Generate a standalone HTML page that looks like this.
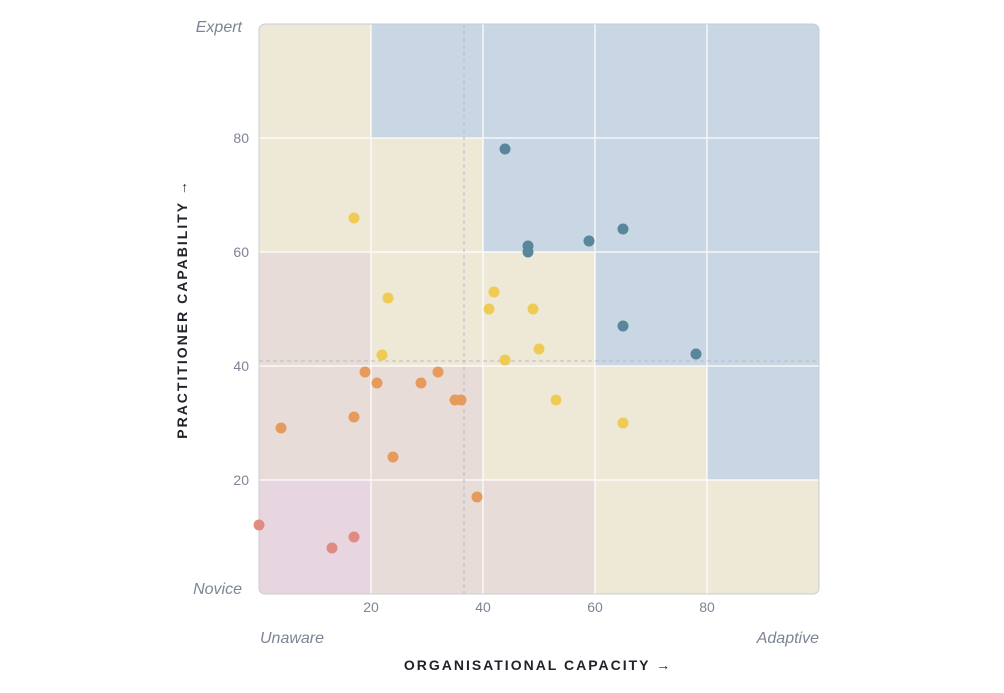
<!DOCTYPE html>
<html><head><meta charset="utf-8"><style>
body{margin:0;background:#fff;}
svg{display:block;font-family:"Liberation Sans",sans-serif;}
</style></head><body>
<svg width="1004" height="693" viewBox="0 0 1004 693">
<defs><clipPath id="c"><rect x="259" y="24" width="560" height="570" rx="6"/></clipPath></defs>
<g clip-path="url(#c)">
<rect x="259" y="24" width="560" height="570" fill="#c9d7e4"/>
<g fill="#eee8d7">
<rect x="259" y="24" width="112" height="114"/>
<rect x="259" y="138" width="224" height="114"/>
<rect x="371" y="252" width="224" height="114"/>
<rect x="483" y="366" width="224" height="114"/>
<rect x="595" y="480" width="224" height="114"/>
</g>
<g fill="#e8dcd9">
<rect x="259" y="252" width="112" height="228"/>
<rect x="371" y="366" width="112" height="114"/>
<rect x="371" y="480" width="224" height="114"/>
</g>
<rect x="259" y="480" width="112" height="114" fill="#e7d6e0"/>
<g stroke="#fff" stroke-width="1.5" opacity="0.8">
<line x1="371" y1="24" x2="371" y2="594"/><line x1="483" y1="24" x2="483" y2="594"/>
<line x1="595" y1="24" x2="595" y2="594"/><line x1="707" y1="24" x2="707" y2="594"/>
<line x1="259" y1="138" x2="819" y2="138"/><line x1="259" y1="252" x2="819" y2="252"/>
<line x1="259" y1="366" x2="819" y2="366"/><line x1="259" y1="480" x2="819" y2="480"/>
</g>
<g stroke="#b8bcc4" stroke-width="1" stroke-dasharray="4,3">
<line x1="464" y1="24" x2="464" y2="594"/><line x1="259" y1="361" x2="819" y2="361"/>
</g>
</g>
<rect x="259" y="24" width="560" height="570" rx="6" fill="none" stroke="#c8ccd2"/>
<g fill="#58869a">
<circle cx="505" cy="149" r="5.5"/><circle cx="528" cy="246" r="5.5"/><circle cx="528" cy="252" r="5.5"/>
<circle cx="589" cy="241" r="5.5"/><circle cx="623" cy="229" r="5.5"/><circle cx="623" cy="326" r="5.5"/><circle cx="696" cy="354" r="5.5"/>
</g>
<g fill="#efcb55">
<circle cx="354" cy="218" r="5.5"/><circle cx="388" cy="298" r="5.5"/><circle cx="494" cy="292" r="5.5"/>
<circle cx="489" cy="309" r="5.5"/><circle cx="533" cy="309" r="5.5"/><circle cx="382" cy="355" r="5.5"/>
<circle cx="505" cy="360" r="5.5"/><circle cx="539" cy="349" r="5.5"/><circle cx="556" cy="400" r="5.5"/><circle cx="623" cy="423" r="5.5"/>
</g>
<g fill="#e69b5c">
<circle cx="365" cy="372" r="5.5"/><circle cx="377" cy="383" r="5.5"/><circle cx="421" cy="383" r="5.5"/>
<circle cx="438" cy="372" r="5.5"/><circle cx="455" cy="400" r="5.5"/><circle cx="461" cy="400" r="5.5"/>
<circle cx="354" cy="417" r="5.5"/><circle cx="281" cy="428" r="5.5"/><circle cx="393" cy="457" r="5.5"/><circle cx="477" cy="497" r="5.5"/>
</g>
<g fill="#e08a84">
<circle cx="259" cy="525" r="5.5"/><circle cx="332" cy="548" r="5.5"/><circle cx="354" cy="537" r="5.5"/>
</g>
<g fill="#7d8594" font-size="14" text-anchor="end">
<text x="249" y="143">80</text><text x="249" y="257">60</text><text x="249" y="371">40</text><text x="249" y="485">20</text>
</g>
<g fill="#7d8594" font-size="14" text-anchor="middle">
<text x="371" y="612">20</text><text x="483" y="612">40</text><text x="595" y="612">60</text><text x="707" y="612">80</text>
</g>
<g fill="#7d8594" font-size="16" font-style="italic">
<text x="242" y="32" text-anchor="end">Expert</text>
<text x="242" y="594" text-anchor="end">Novice</text>
<text x="260" y="643">Unaware</text>
<text x="819" y="643" text-anchor="end">Adaptive</text>
</g>
<text x="538" y="670" text-anchor="middle" font-size="14" font-weight="bold" letter-spacing="2" fill="#1f2229">ORGANISATIONAL CAPACITY →</text>
<text transform="translate(187,309) rotate(-90)" text-anchor="middle" font-size="14" font-weight="bold" letter-spacing="2" fill="#1f2229">PRACTITIONER CAPABILITY →</text>
</svg>
</body></html>
